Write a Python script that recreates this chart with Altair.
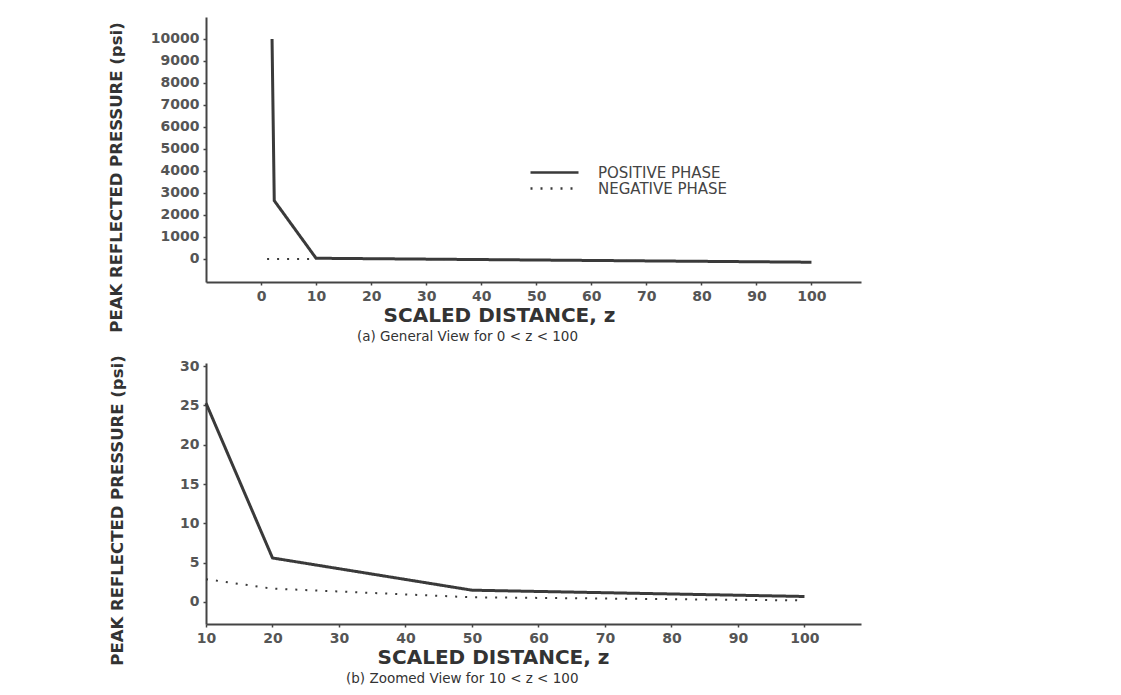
import altair as alt
import pandas as pd

INK = "#3a3a3a"
FONT = "DejaVu Sans"

series_names = ["POSITIVE PHASE", "NEGATIVE PHASE"]

# (a) General view
a_pos_z = [2.0, 2.4, 10.0, 100.0]
a_pos_p = [10000, 2650, 30, -150]
a_neg_z = [1.1, 10.0]
a_neg_p = [0, 0]

# (b) Zoomed view
b_pos_z = [10, 20, 50, 100]
b_pos_p = [25.3, 5.6, 1.5, 0.7]
b_neg_z = [10, 20, 50, 100]
b_neg_p = [2.9, 1.7, 0.6, 0.2]

a_x_ticks = [0, 10, 20, 30, 40, 50, 60, 70, 80, 90, 100]
a_y_ticks = [0, 1000, 2000, 3000, 4000, 5000, 6000, 7000, 8000, 9000, 10000]
b_x_ticks = [10, 20, 30, 40, 50, 60, 70, 80, 90, 100]
b_y_ticks = [0, 5, 10, 15, 20, 25, 30]


def make_df(pz, pp, nz, np_):
    rows = []
    for i, (z, p) in enumerate(zip(pz, pp)):
        rows.append({"z": z, "p": p, "series": series_names[0], "i": i})
    for i, (z, p) in enumerate(zip(nz, np_)):
        rows.append({"z": z, "p": p, "series": series_names[1], "i": i})
    return pd.DataFrame(rows)


def panel(df, xdom, ydom, xticks, yticks, w, h, sub, sub_dx, sub_offset,
          xt_x, xt_pad, yt_y, yt_pad, lx, ly):
    dash_scale = alt.Scale(domain=series_names, range=[[1, 0], [2, 8]])
    legend = alt.Legend(
        title=None, orient="none", legendX=lx, legendY=ly,
        symbolType="stroke", symbolSize=2304, symbolStrokeColor=INK,
        symbolStrokeWidth=2.5, labelFont=FONT, labelFontSize=15,
        labelColor="#444", labelOffset=18, clipHeight=15, rowPadding=0,
        padding=0,
    )
    x = alt.X("z:Q", scale=alt.Scale(domain=xdom, nice=False, zero=False),
              axis=alt.Axis(values=xticks, title="SCALED DISTANCE, z",
                            titleX=xt_x, titlePadding=xt_pad, format="d",
                            titleFontSize=20, labelFlush=False,
                            labelOverlap=False))
    y = alt.Y("p:Q", scale=alt.Scale(domain=ydom, nice=False, zero=False),
              axis=alt.Axis(values=yticks, format="d",
                            title="PEAK REFLECTED PRESSURE  (psi)",
                            titleY=yt_y, titlePadding=yt_pad,
                            titleFontSize=16.5, labelOverlap=False))
    base = alt.Chart(df).encode(
        x=x, y=y,
        strokeDash=alt.StrokeDash("series:N", scale=dash_scale, legend=legend),
        order=alt.Order("i:Q"),
    )
    pos = base.mark_line(color=INK, strokeWidth=3).transform_filter(
        alt.datum.series == series_names[0])
    neg = base.mark_line(color=INK, strokeWidth=2).transform_filter(
        alt.datum.series == series_names[1])
    return alt.layer(pos, neg).properties(
        width=w, height=h,
        title=alt.TitleParams(sub, orient="bottom", anchor="start", dx=sub_dx,
                              frame="group", offset=sub_offset, fontSize=13.5,
                              font=FONT, fontWeight="normal", color="#333"),
    )


top = panel(make_df(a_pos_z, a_pos_p, a_neg_z, a_neg_p),
            [-10, 109], [-1050, 11000], a_x_ticks, a_y_ticks, 655, 265,
            "(a)  General View for 0 < z < 100", 151, -5,
            293, 2, 160, 26, 323, 148)
bottom = panel(make_df(b_pos_z, b_pos_p, b_neg_z, b_neg_p),
               [10, 108.5], [-2.8, 30.4], b_x_ticks, b_y_ticks, 655, 261,
               "(b)  Zoomed View for 10 < z < 100", 140, 4,
               287, 2, 147, 54, 316, 146)

chart = alt.vconcat(top, bottom, spacing=7).properties(
    padding={"left": 100, "top": 9, "right": 10, "bottom": 0},
    background="white",
).configure_view(stroke=None).configure_axis(
    domainColor="#444", domainWidth=2, tickColor="#444", tickSize=3,
    tickWidth=1.5, labelFont=FONT, labelFontWeight="bold", labelFontSize=14,
    labelColor="#555", labelPadding=4, grid=False, titleFont=FONT,
    titleFontWeight="bold", titleColor="#333",
)

chart.save("out.html", embed_options={"renderer": "svg", "actions": False})
